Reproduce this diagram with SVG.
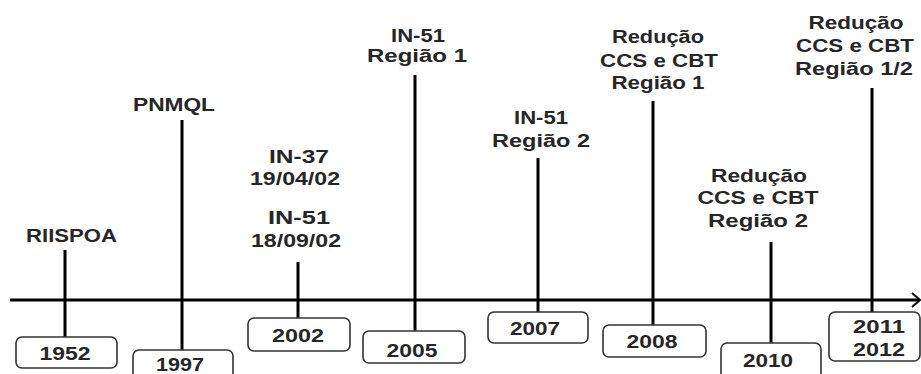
<svg xmlns="http://www.w3.org/2000/svg" width="921" height="374" viewBox="0 0 921 374">
<style>
.t{font-family:"Liberation Sans",Arial,sans-serif;font-weight:bold;font-size:18px;fill:#262626;text-anchor:middle}
.y{font-family:"Liberation Sans",Arial,sans-serif;font-weight:bold;font-size:19px;fill:#262626;text-anchor:middle}
.box{fill:#fff;stroke:#333;stroke-width:1.6}
.ln{stroke:#000;stroke-width:3;fill:none}
</style>
<rect width="921" height="374" fill="#fff"/>
<g id="connectors">
<line class="ln" x1="10" y1="300" x2="919" y2="300"/>
<polyline points="912,293 920,300 912,307" fill="none" stroke="#000" stroke-width="2"/>
<line class="ln" x1="65" y1="250" x2="65" y2="337"/>
<line class="ln" x1="182" y1="120" x2="182" y2="350"/>
<line class="ln" x1="298" y1="262" x2="298" y2="318"/>
<line class="ln" x1="415" y1="75" x2="415" y2="331"/>
<line class="ln" x1="538" y1="158" x2="538" y2="312"/>
<line class="ln" x1="653" y1="101" x2="653" y2="325"/>
<line class="ln" x1="771" y1="242" x2="771" y2="343"/>
<line class="ln" x1="872" y1="88" x2="872" y2="312"/>
</g>
<g id="n1952">
<text class="t" x="71.5" y="242" textLength="91" lengthAdjust="spacingAndGlyphs">RIISPOA</text>
<rect class="box" x="16" y="337" width="101" height="31" rx="6"/>
<text class="y" x="65" y="360" textLength="51" lengthAdjust="spacingAndGlyphs">1952</text>
</g>
<g id="n1997">
<text class="t" x="174" y="111" textLength="82" lengthAdjust="spacingAndGlyphs">PNMQL</text>
<rect class="box" x="133" y="350" width="100" height="32" rx="6"/>
<text class="y" x="180" y="371" textLength="48" lengthAdjust="spacingAndGlyphs">1997</text>
</g>
<g id="n2002">
<text class="t" x="299" y="163" textLength="60" lengthAdjust="spacingAndGlyphs">IN-37</text>
<text class="t" x="295" y="185" textLength="90" lengthAdjust="spacingAndGlyphs">19/04/02</text>
<text class="t" x="299" y="224" textLength="62" lengthAdjust="spacingAndGlyphs">IN-51</text>
<text class="t" x="296" y="247" textLength="90" lengthAdjust="spacingAndGlyphs">18/09/02</text>
<rect class="box" x="248" y="318" width="102" height="33" rx="6"/>
<text class="y" x="298" y="342" textLength="52" lengthAdjust="spacingAndGlyphs">2002</text>
</g>
<g id="n2005">
<text class="t" x="418" y="42" textLength="54" lengthAdjust="spacingAndGlyphs">IN-51</text>
<text class="t" x="417" y="62" textLength="100" lengthAdjust="spacingAndGlyphs">Região 1</text>
<rect class="box" x="363" y="331" width="102" height="32" rx="6"/>
<text class="y" x="412" y="357" textLength="51" lengthAdjust="spacingAndGlyphs">2005</text>
</g>
<g id="n2007">
<text class="t" x="541" y="124" textLength="54" lengthAdjust="spacingAndGlyphs">IN-51</text>
<text class="t" x="541" y="147" textLength="98" lengthAdjust="spacingAndGlyphs">Região 2</text>
<rect class="box" x="488" y="312" width="100" height="31" rx="6"/>
<text class="y" x="535" y="335" textLength="50" lengthAdjust="spacingAndGlyphs">2007</text>
</g>
<g id="n2008">
<text class="t" x="658" y="43" textLength="92" lengthAdjust="spacingAndGlyphs">Redução</text>
<text class="t" x="659" y="67" textLength="118" lengthAdjust="spacingAndGlyphs">CCS e CBT</text>
<text class="t" x="658" y="89" textLength="93" lengthAdjust="spacingAndGlyphs">Região 1</text>
<rect class="box" x="603" y="325" width="103" height="32" rx="6"/>
<text class="y" x="652" y="348" textLength="51" lengthAdjust="spacingAndGlyphs">2008</text>
</g>
<g id="n2010">
<text class="t" x="759" y="182" textLength="96" lengthAdjust="spacingAndGlyphs">Redução</text>
<text class="t" x="758" y="204" textLength="121" lengthAdjust="spacingAndGlyphs">CCS e CBT</text>
<text class="t" x="758" y="227" textLength="100" lengthAdjust="spacingAndGlyphs">Região 2</text>
<rect class="box" x="721" y="343" width="100" height="36" rx="6"/>
<text class="y" x="768" y="367" textLength="50" lengthAdjust="spacingAndGlyphs">2010</text>
</g>
<g id="n2011">
<text class="t" x="856" y="29" textLength="95" lengthAdjust="spacingAndGlyphs">Redução</text>
<text class="t" x="855" y="52" textLength="118" lengthAdjust="spacingAndGlyphs">CCS e CBT</text>
<text class="t" x="854" y="75" textLength="118" lengthAdjust="spacingAndGlyphs">Região 1/2</text>
<rect class="box" x="829" y="312" width="91" height="49" rx="6"/>
<text class="y" x="879" y="333" textLength="52" lengthAdjust="spacingAndGlyphs">2011</text>
<text class="y" x="879" y="356" textLength="52" lengthAdjust="spacingAndGlyphs">2012</text>
</g>
</svg>
